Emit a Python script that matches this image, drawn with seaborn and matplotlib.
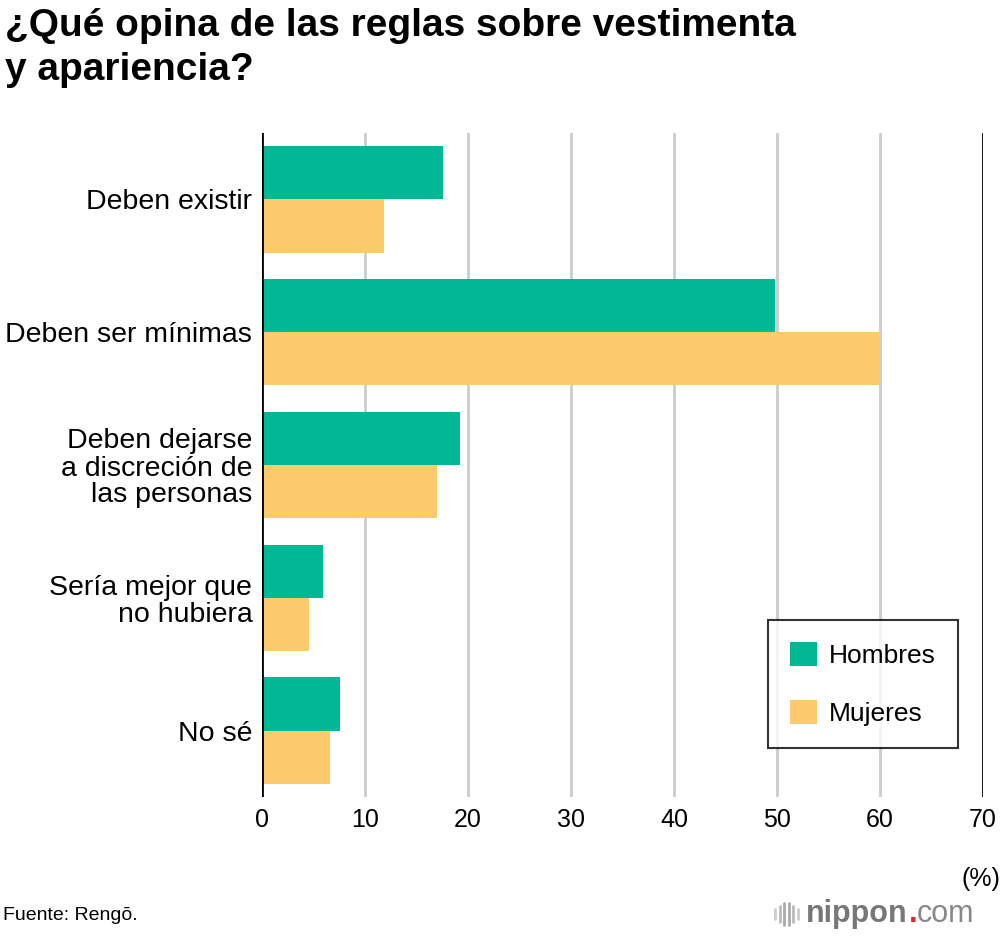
import matplotlib
matplotlib.use("Agg")
import matplotlib.pyplot as plt
import seaborn as sns
import pandas as pd
from matplotlib.lines import Line2D

categories = ["Deben existir", "Deben ser mínimas", "Deben dejarse\na discreción de\nlas personas",
              "Sería mejor que\nno hubiera", "No sé"]
hombres = [17.6, 49.8, 19.2, 5.9, 7.6]
mujeres = [11.8, 60.0, 17.0, 4.6, 6.6]
series = ["Hombres", "Mujeres"]
colors = ["#00B894", "#FDCA6E"]
xticks = [0, 10, 20, 30, 40, 50, 60, 70]

df = pd.DataFrame({
    "cat": categories * 2,
    "val": hombres + mujeres,
    "serie": [series[0]] * 5 + [series[1]] * 5,
})

sns.set_theme(style="white")
plt.rcParams["font.family"] = ["Liberation Sans", "DejaVu Sans"]
plt.rcParams["text.color"] = "black"
plt.rcParams["xtick.labelcolor"] = "black"
plt.rcParams["ytick.labelcolor"] = "black"

W, H = 1000, 936
fig = plt.figure(figsize=(10, 9.36), dpi=100)
ax = fig.add_axes([0.262, 1 - 797 / H, 0.721, (797 - 133) / H])

sns.barplot(data=df, x="val", y="cat", hue="serie", order=categories, hue_order=series,
            palette=colors, orient="h", width=0.8, ax=ax, saturation=1, edgecolor="none",
            linewidth=0, zorder=3)

ax.set_xlim(0, 70)
ax.set_ylim(4.5, -0.5)
ax.set_xticks(xticks)
ax.set_xticklabels([str(t) for t in xticks])
for t in xticks[1:-1]:
    ax.axvline(t, color="#cccccc", lw=2, zorder=1)
ax.axvline(70, color="black", lw=2, zorder=1)
ax.axvline(0, color="black", lw=2, zorder=4)
for s in ax.spines.values():
    s.set_visible(False)
ax.tick_params(axis="x", length=7, width=2, color="#cccccc", pad=1, labelsize=18)
ax.tick_params(axis="y", length=0, pad=7, labelsize=20.5)
for lbl in ax.get_yticklabels():
    lbl.set_horizontalalignment("right")
    lbl.set_multialignment("right")
    lbl.set_linespacing(1.05)
ax.set_xlabel("")
ax.set_ylabel("")
ax.grid(False)

leg = ax.legend(loc="upper left", bbox_to_anchor=((768 - 262) / 721, 1 - (620 - 133) / 664),
                frameon=True, fancybox=False, fontsize=19, handlelength=1.0, handleheight=1.0,
                borderpad=0.85, labelspacing=1.2, handletextpad=0.45, borderaxespad=0)
leg.get_frame().set_edgecolor("black")
leg.get_frame().set_linewidth(1.5)

fig.text(0.005, 1 - 8 / H, "¿Qué opina de las reglas sobre vestimenta\ny apariencia?",
         fontsize=28, fontweight="bold", va="top", ha="left", linespacing=1.3)
fig.text(0.981, 1 - 879 / H, "(%)", fontsize=18, ha="center", va="center")
fig.text(0.003, 1 - 916 / H, "Fuente: Rengō.", fontsize=14, ha="left", va="center")

# logo
for i, (hgt, c) in enumerate([(10, "#cccccc"), (16, "#bbbbbb"), (22, "#aaaaaa"), (22, "#aaaaaa"),
                             (16, "#bbbbbb"), (10, "#cccccc")]):
    x = (775 + i * 4.5) / W
    fig.add_artist(Line2D([x, x], [1 - (914 + hgt / 2) / H, 1 - (914 - hgt / 2) / H],
                          color=c, lw=2, transform=fig.transFigure))
fig.canvas.draw()
r = fig.canvas.get_renderer()
t1 = fig.text(806 / W, 1 - 914 / H, "nippon", fontsize=22, fontweight="bold", color="#777777",
              ha="left", va="center")
bb = t1.get_window_extent(renderer=r)
t2 = fig.text(bb.x1 / W + 0.001, 1 - 914 / H, ".", fontsize=22, fontweight="bold", color="#e8262b",
              ha="left", va="center")
bb2 = t2.get_window_extent(renderer=r)
fig.text(bb2.x1 / W, 1 - 914 / H, "com", fontsize=22, color="#888888", ha="left", va="center")

fig.savefig("out.png", dpi=100, facecolor="white")
